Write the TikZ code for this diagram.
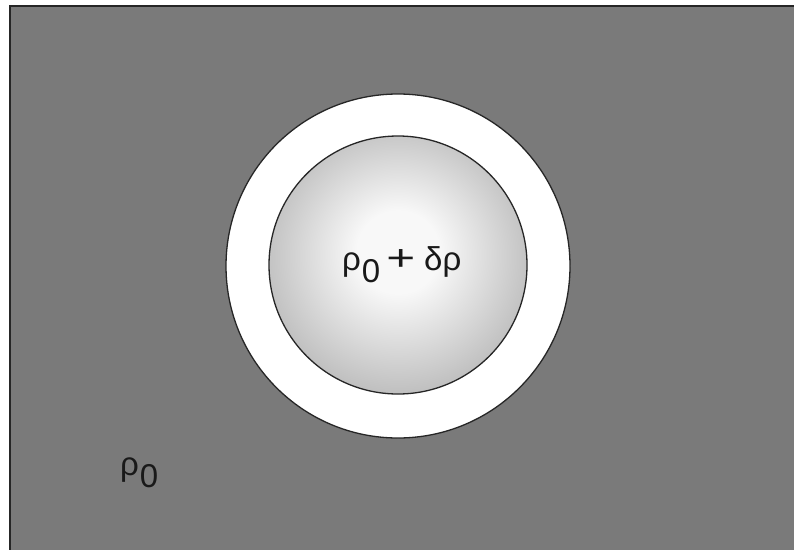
\documentclass[tikz,border=0pt]{standalone}
\usepackage{fontspec}
\usepackage{graphicx}
\setmainfont{Liberation Sans}
\definecolor{bggray}{RGB}{122,122,122}
\definecolor{edgegray}{RGB}{120,120,120}
\definecolor{midgray}{RGB}{180,180,180}
\definecolor{centergray}{RGB}{248,248,248}
\pgfdeclareradialshading{blob}{\pgfpoint{0bp}{3bp}}{%
  color(0bp)=(centergray); color(8bp)=(centergray); color(30bp)=(midgray); color(50bp)=(edgegray)}
\tikzset{
  outline/.style={draw=black!85, line width=1.3pt},
  lbl/.style={font=\fontsize{33}{36}\selectfont, inner sep=0pt, anchor=base west, text=black!90}
}
\newcommand{\subzero}{\lower12pt\hbox{0}}
\newcommand{\bigplus}{\scalebox{1.5}[1.1]{+}}
\begin{document}
\begin{tikzpicture}[x=1pt,y=-1pt]
\useasboundingbox (0,0) rectangle (794,549);
\fill[white] (0,0) rectangle (794,549);
\path[fill=bggray, draw=black!85, line width=1.5pt] (10,6) rectangle (800,556);
\node[circle, minimum size=344pt, inner sep=0pt, fill=white, outline] (ring) at (398,266) {};
\node[circle, minimum size=258pt, inner sep=0pt, outline, shading=blob] (core) at (398,265) {};
\node[lbl] (inner) at (342,270) {ρ\kern1pt\subzero\hspace{6pt}\bigplus\hspace{9pt}δρ};
\node[lbl] (outer) at (120,475) {ρ\kern1pt\subzero};
\end{tikzpicture}
\end{document}
